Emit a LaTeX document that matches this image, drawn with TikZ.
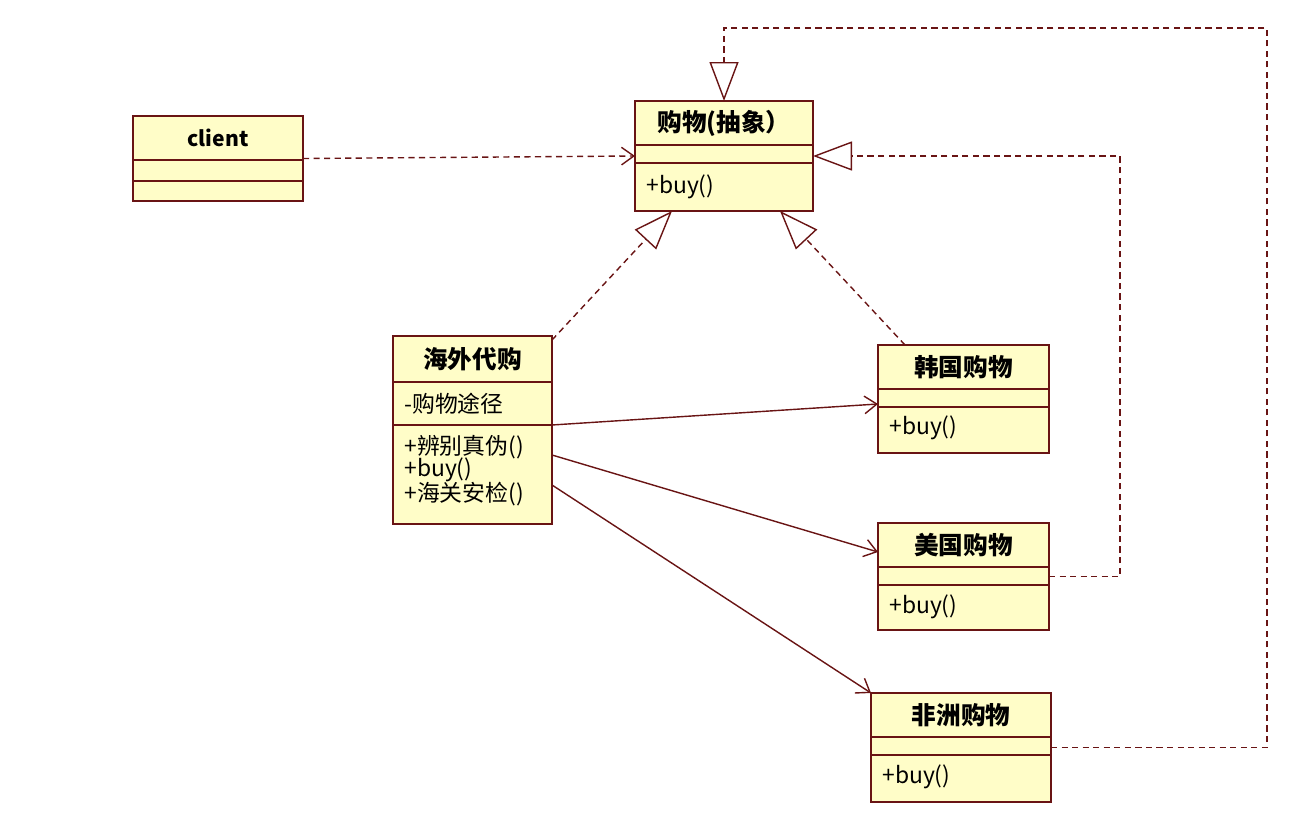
\documentclass[tikz,border=0pt]{standalone}
\usepackage{fontspec}
\setmainfont{Noto Sans CJK SC}
\usetikzlibrary{arrows.meta,calc}
\definecolor{umlred}{RGB}{105,20,20}
\definecolor{umlfill}{RGB}{255,253,200}
\tikzset{
  classbox/.style={draw=umlred, fill=umlfill, line width=1.1pt, inner sep=0pt, outer sep=0pt, anchor=north west},
  classtitle/.style={font=\fontsize{14}{16}\selectfont\bfseries, inner sep=0pt},
  member/.style={font=\fontsize{13}{15}\selectfont, inner sep=0pt, anchor=west},
  dep/.style={draw=umlred, line width=0.8pt, dash pattern=on 3.5pt off 2.5pt, -{Straight Barb[length=7pt,width=10pt]}},
  gen/.style={draw=umlred, line width=0.8pt, dash pattern=on 3.5pt off 2.5pt, -{Triangle[open,length=0.78cm,width=0.58cm,line width=0.8pt]}},
  assoc/.style={draw=umlred, line width=0.8pt, -{Straight Barb[length=7pt,width=10pt]}}
}
\begin{document}
\begin{tikzpicture}[x=0.02cm,y=-0.02cm]
\useasboundingbox (0,0) rectangle (1294,814);
\foreach \n/\l/\t/\r/\b/\da/\db/\title in {client/133/116/303/201/160/181/{\fontsize{12}{14}\selectfont client},
  shop/635/101/813/211/145/163/购物(抽象）,
  agent/393/336/552/524/382/425/海外代购,
  korea/878/345/1049/453/389/407/韩国购物,
  usa/878/523/1049/630/567/585/美国购物,
  africa/871/693/1051/802/737/755/非洲购物}
{
\node[classbox, minimum width={(\r-\l)*0.02cm}, minimum height={(\b-\t)*0.02cm}] (\n) at (\l,\t) {};
\draw[umlred, line width=1.1pt] (\l,\da) -- (\r,\da);
\draw[umlred, line width=1.1pt] (\l,\db) -- (\r,\db);
\node[classtitle] (\n-title) at ({(\l+\r)/2},{(\t+\da)/2}) {\title};
}
\node[member] (shop-buy) at (646,187) {+buy()};
\node[member] (agent-way) at (404,404) {-购物途径};
\node[member] (agent-check) at (404,447) {+辨别真伪()};
\node[member] (agent-buy) at (404,470) {+buy()};
\node[member] (agent-customs) at (404,494) {+海关安检()};
\node[member] (korea-buy) at (889,428) {+buy()};
\node[member] (usa-buy) at (889,607) {+buy()};
\node[member] (africa-buy) at (882,777) {+buy()};
\coordinate (topright) at (1267,28);
\draw[dep] (client.east) -- (shop.west);
\draw[gen] ($(agent.north east)+(0,4)$) -- ($(shop.south)+(-52,0)$);
\draw[gen] ($(korea.north west)+(27,0)$) -- ($(shop.south)+(56,0)$);
\draw[gen] (usa.east) -- ++(71,0) |- (shop.east);
\draw[gen] (africa.east) -| (topright) -| (shop.north);
\draw[assoc] ($(agent.east)+(0,-5)$) -- ($(korea.west)+(0,5)$);
\draw[assoc] ($(agent.east)+(0,25)$) -- ($(usa.north west)+(0,29)$);
\draw[assoc] ($(agent.east)+(0,55)$) -- (africa.north west);
\end{tikzpicture}
\end{document}
